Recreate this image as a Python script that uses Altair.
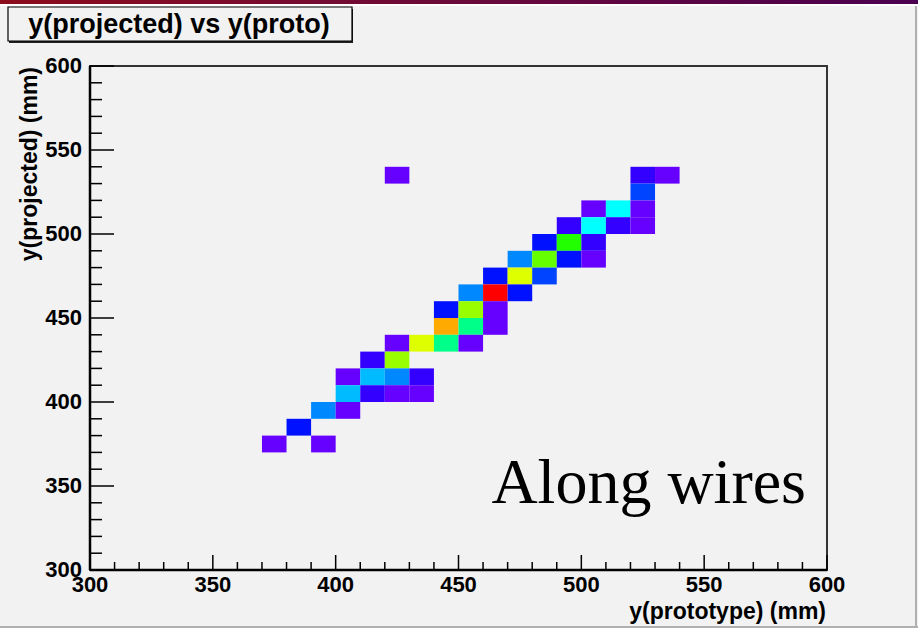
import altair as alt
import pandas as pd

# ---- 2D histogram cells (bin lower edges, 10 mm bins) and counts ----
cell_x = [420, 520, 530,
          520,
          500, 510, 520,
          490, 500, 510, 520,
          480, 490, 500,
          470, 480, 490, 500,
          460, 470, 480,
          450, 460, 470,
          440, 450, 460,
          440, 450, 460,
          420, 430, 440, 450,
          410, 420,
          400, 410, 420, 430,
          400, 410, 420, 430,
          390, 400,
          380,
          370, 390]
cell_y = [530, 530, 530,
          520,
          510, 510, 510,
          500, 500, 500, 500,
          490, 490, 490,
          480, 480, 480, 480,
          470, 470, 470,
          460, 460, 460,
          450, 450, 450,
          440, 440, 440,
          430, 430, 430, 430,
          420, 420,
          410, 410, 410, 410,
          400, 400, 400, 400,
          390, 390,
          380,
          370, 370]
cell_n = [1, 2, 1,
          4,
          1, 7, 1,
          2, 7, 2, 1,
          3, 9, 2,
          5, 10, 3, 1,
          3, 12, 4,
          5, 14, 3,
          3, 11, 1,
          13, 8, 1,
          1, 12, 8, 1,
          2, 11,
          1, 6, 5, 2,
          6, 2, 1, 1,
          5, 1,
          3,
          1, 1]

palette_counts = list(range(1, 15))
palette_colors = ["#6600ff", "#3300ff", "#0011ff", "#0044ff", "#0088ff",
                  "#00bbff", "#00ffff", "#00ff88", "#22ff00", "#66ff00",
                  "#99ff00", "#ddff00", "#ffaa00", "#ff0000"]

x_major = [300, 350, 400, 450, 500, 550, 600]
x_minor = [v for v in range(310, 600, 10) if v % 50 != 0]
y_major = [300, 350, 400, 450, 500, 550, 600]
y_minor = [v for v in range(310, 600, 10) if v % 50 != 0]

title_text = "y(projected) vs y(proto)"
x_title = "y(prototype) (mm)"
y_title = "y(projected) (mm)"
note_text = "Along wires"

W, H = 737, 504
FONT = "Liberation Sans, Arial, Helvetica, sans-serif"

cells = pd.DataFrame({"x": cell_x, "y": cell_y, "n": cell_n})
xs = alt.Scale(domain=[300, 600], nice=False, zero=False)
ys = alt.Scale(domain=[300, 600], nice=False, zero=False)

one = alt.Data(values=[{"a": 1}])

band = alt.Chart(one).mark_rect(
    fill=alt.LinearGradient(
        gradient="linear",
        stops=[alt.GradientStop(color="#8c0c1c", offset=0),
               alt.GradientStop(color="#6a0a3a", offset=0.5),
               alt.GradientStop(color="#4a0050", offset=1)],
        x1=0, x2=1, y1=0, y2=0)
).encode(x=alt.value(-90), x2=alt.value(828), y=alt.value(-66), y2=alt.value(-62))

white_strip = alt.Chart(one).mark_rect(fill="#ffffff").encode(
    x=alt.value(-90), x2=alt.value(828), y=alt.value(-62), y2=alt.value(-60))

right_edge = alt.Chart(one).mark_rule(color="#b0b0b0", strokeWidth=2).encode(
    x=alt.value(826), y=alt.value(-60), y2=alt.value(562))
bottom_edge = alt.Chart(one).mark_rule(color="#b0b0b0", strokeWidth=2).encode(
    x=alt.value(-90), x2=alt.value(828), y=alt.value(561))

shadow = alt.Chart(one).mark_rect(fill="#222222").encode(
    x=alt.value(-81), x2=alt.value(263), y=alt.value(-57), y2=alt.value(-23))
box = alt.Chart(one).mark_rect(fill="#f2f2f2", stroke="#000000", strokeWidth=1.2).encode(
    x=alt.value(-82), x2=alt.value(262), y=alt.value(-59), y2=alt.value(-25))
title = alt.Chart(one).mark_text(
    text=title_text, font=FONT, fontWeight="bold", fontSize=27,
    align="center", baseline="middle", color="#000000"
).encode(x=alt.value(89), y=alt.value(-41))

heat = alt.Chart(cells).transform_calculate(
    x2="datum.x + 10", y2="datum.y + 10"
).mark_rect().encode(
    x=alt.X("x:Q", scale=xs, axis=None),
    x2="x2:Q",
    y=alt.Y("y:Q", scale=ys, axis=None),
    y2="y2:Q",
    color=alt.Color("n:O", scale=alt.Scale(domain=palette_counts, range=palette_colors),
                    legend=None),
)

# axis lines (left and bottom, ROOT style)
left_axis = alt.Chart(one).mark_rule(color="#000000", strokeWidth=2.5).encode(
    x=alt.value(0), y=alt.value(0), y2=alt.value(H))
bottom_axis = alt.Chart(one).mark_rule(color="#000000", strokeWidth=2.5).encode(
    x=alt.value(0), x2=alt.value(W), y=alt.value(H))

xmaj = alt.Chart(pd.DataFrame({"v": x_major})).mark_rule(color="#000000", strokeWidth=1.5).encode(
    x=alt.X("v:Q", scale=xs, axis=None), y=alt.value(H), y2=alt.value(H - 15))
xmin = alt.Chart(pd.DataFrame({"v": x_minor})).mark_rule(color="#000000", strokeWidth=1.5).encode(
    x=alt.X("v:Q", scale=xs, axis=None), y=alt.value(H), y2=alt.value(H - 8))
ymaj = alt.Chart(pd.DataFrame({"v": y_major})).mark_rule(color="#000000", strokeWidth=1.5).encode(
    y=alt.Y("v:Q", scale=ys, axis=None), x=alt.value(0), x2=alt.value(24))
ymin = alt.Chart(pd.DataFrame({"v": y_minor})).mark_rule(color="#000000", strokeWidth=1.5).encode(
    y=alt.Y("v:Q", scale=ys, axis=None), x=alt.value(0), x2=alt.value(12))

xlab = alt.Chart(pd.DataFrame({"v": x_major})).mark_text(
    font=FONT, fontWeight="bold", fontSize=22, color="#000000",
    align="center", baseline="top"
).encode(x=alt.X("v:Q", scale=xs, axis=None), y=alt.value(H + 5),
         text=alt.Text("v:Q", format="d"))
ylab = alt.Chart(pd.DataFrame({"v": y_major})).mark_text(
    font=FONT, fontWeight="bold", fontSize=22, color="#000000",
    align="right", baseline="middle"
).encode(y=alt.Y("v:Q", scale=ys, axis=None), x=alt.value(-8),
         text=alt.Text("v:Q", format="d"))

xtitle = alt.Chart(one).mark_text(
    text=x_title, font=FONT, fontWeight="bold", fontSize=23, color="#000000",
    align="right", baseline="alphabetic"
).encode(x=alt.value(W - 1), y=alt.value(H + 49))
ytitle = alt.Chart(one).mark_text(
    text=y_title, font=FONT, fontWeight="bold", fontSize=23, color="#000000",
    align="right", baseline="middle", angle=270
).encode(x=alt.value(-60), y=alt.value(1))

note = alt.Chart(one).mark_text(
    text=note_text, font="Liberation Serif, Times New Roman, serif", fontSize=64,
    align="right", baseline="alphabetic", color="#000000"
).encode(x=alt.value(716), y=alt.value(437))

chart = alt.layer(
    band, white_strip, right_edge, bottom_edge, shadow, box, title,
    heat, xmaj, xmin, ymaj, ymin, left_axis, bottom_axis,
    xlab, ylab, xtitle, ytitle, note
).properties(
    width=W, height=H,
    padding={"left": 90, "top": 66, "right": 91, "bottom": 58},
    autosize=alt.AutoSizeParams(type="none"),
    background="#f2f2f2",
).configure_view(stroke="#333333", strokeWidth=2)

chart.save("out.html", embed_options={"renderer": "svg", "actions": False})
